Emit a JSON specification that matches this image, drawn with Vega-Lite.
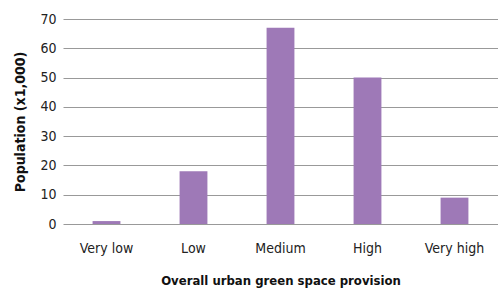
{
  "$schema": "https://vega.github.io/schema/vega-lite/v6.json",
  "width": 435,
  "height": 205,
  "autosize": {"type": "none"},
  "padding": {"left": 63, "top": 19, "right": 0, "bottom": 69},
  "background": "white",
  "data": {
    "values": [
      {"provision": "Very low", "population": 1},
      {"provision": "Low", "population": 18},
      {"provision": "Medium", "population": 67},
      {"provision": "High", "population": 50},
      {"provision": "Very high", "population": 9}
    ]
  },
  "mark": {"type": "bar", "color": "#9e79b7"},
  "encoding": {
    "x": {
      "field": "provision",
      "type": "nominal",
      "sort": null,
      "scale": {"paddingInner": 0.68, "paddingOuter": 0.34},
      "axis": {
        "title": "Overall urban green space provision",
        "labelAngle": 0,
        "domain": false,
        "ticks": false,
        "labelPadding": 17,
        "labelFont": "DejaVu Sans Condensed, Liberation Sans, sans-serif",
        "labelFontSize": 14,
        "labelColor": "#222",
        "titleFont": "DejaVu Sans Condensed, Liberation Sans, sans-serif",
        "titleFontSize": 13,
        "titleFontWeight": "bold",
        "titleColor": "#111",
        "titlePadding": 19
      }
    },
    "y": {
      "field": "population",
      "type": "quantitative",
      "scale": {"domain": [0, 70]},
      "axis": {
        "title": "Population (x1,000)",
        "values": [0, 10, 20, 30, 40, 50, 60, 70],
        "domain": false,
        "ticks": false,
        "grid": true,
        "gridColor": "#999",
        "gridWidth": 1,
        "labelPadding": 7,
        "labelFont": "DejaVu Sans Condensed, Liberation Sans, sans-serif",
        "labelFontSize": 14,
        "labelColor": "#222",
        "titleFont": "DejaVu Sans Condensed, Liberation Sans, sans-serif",
        "titleFontSize": 14,
        "titleFontWeight": "bold",
        "titleColor": "#111",
        "titlePadding": 12
      }
    }
  },
  "config": {"view": {"stroke": null}}
}
